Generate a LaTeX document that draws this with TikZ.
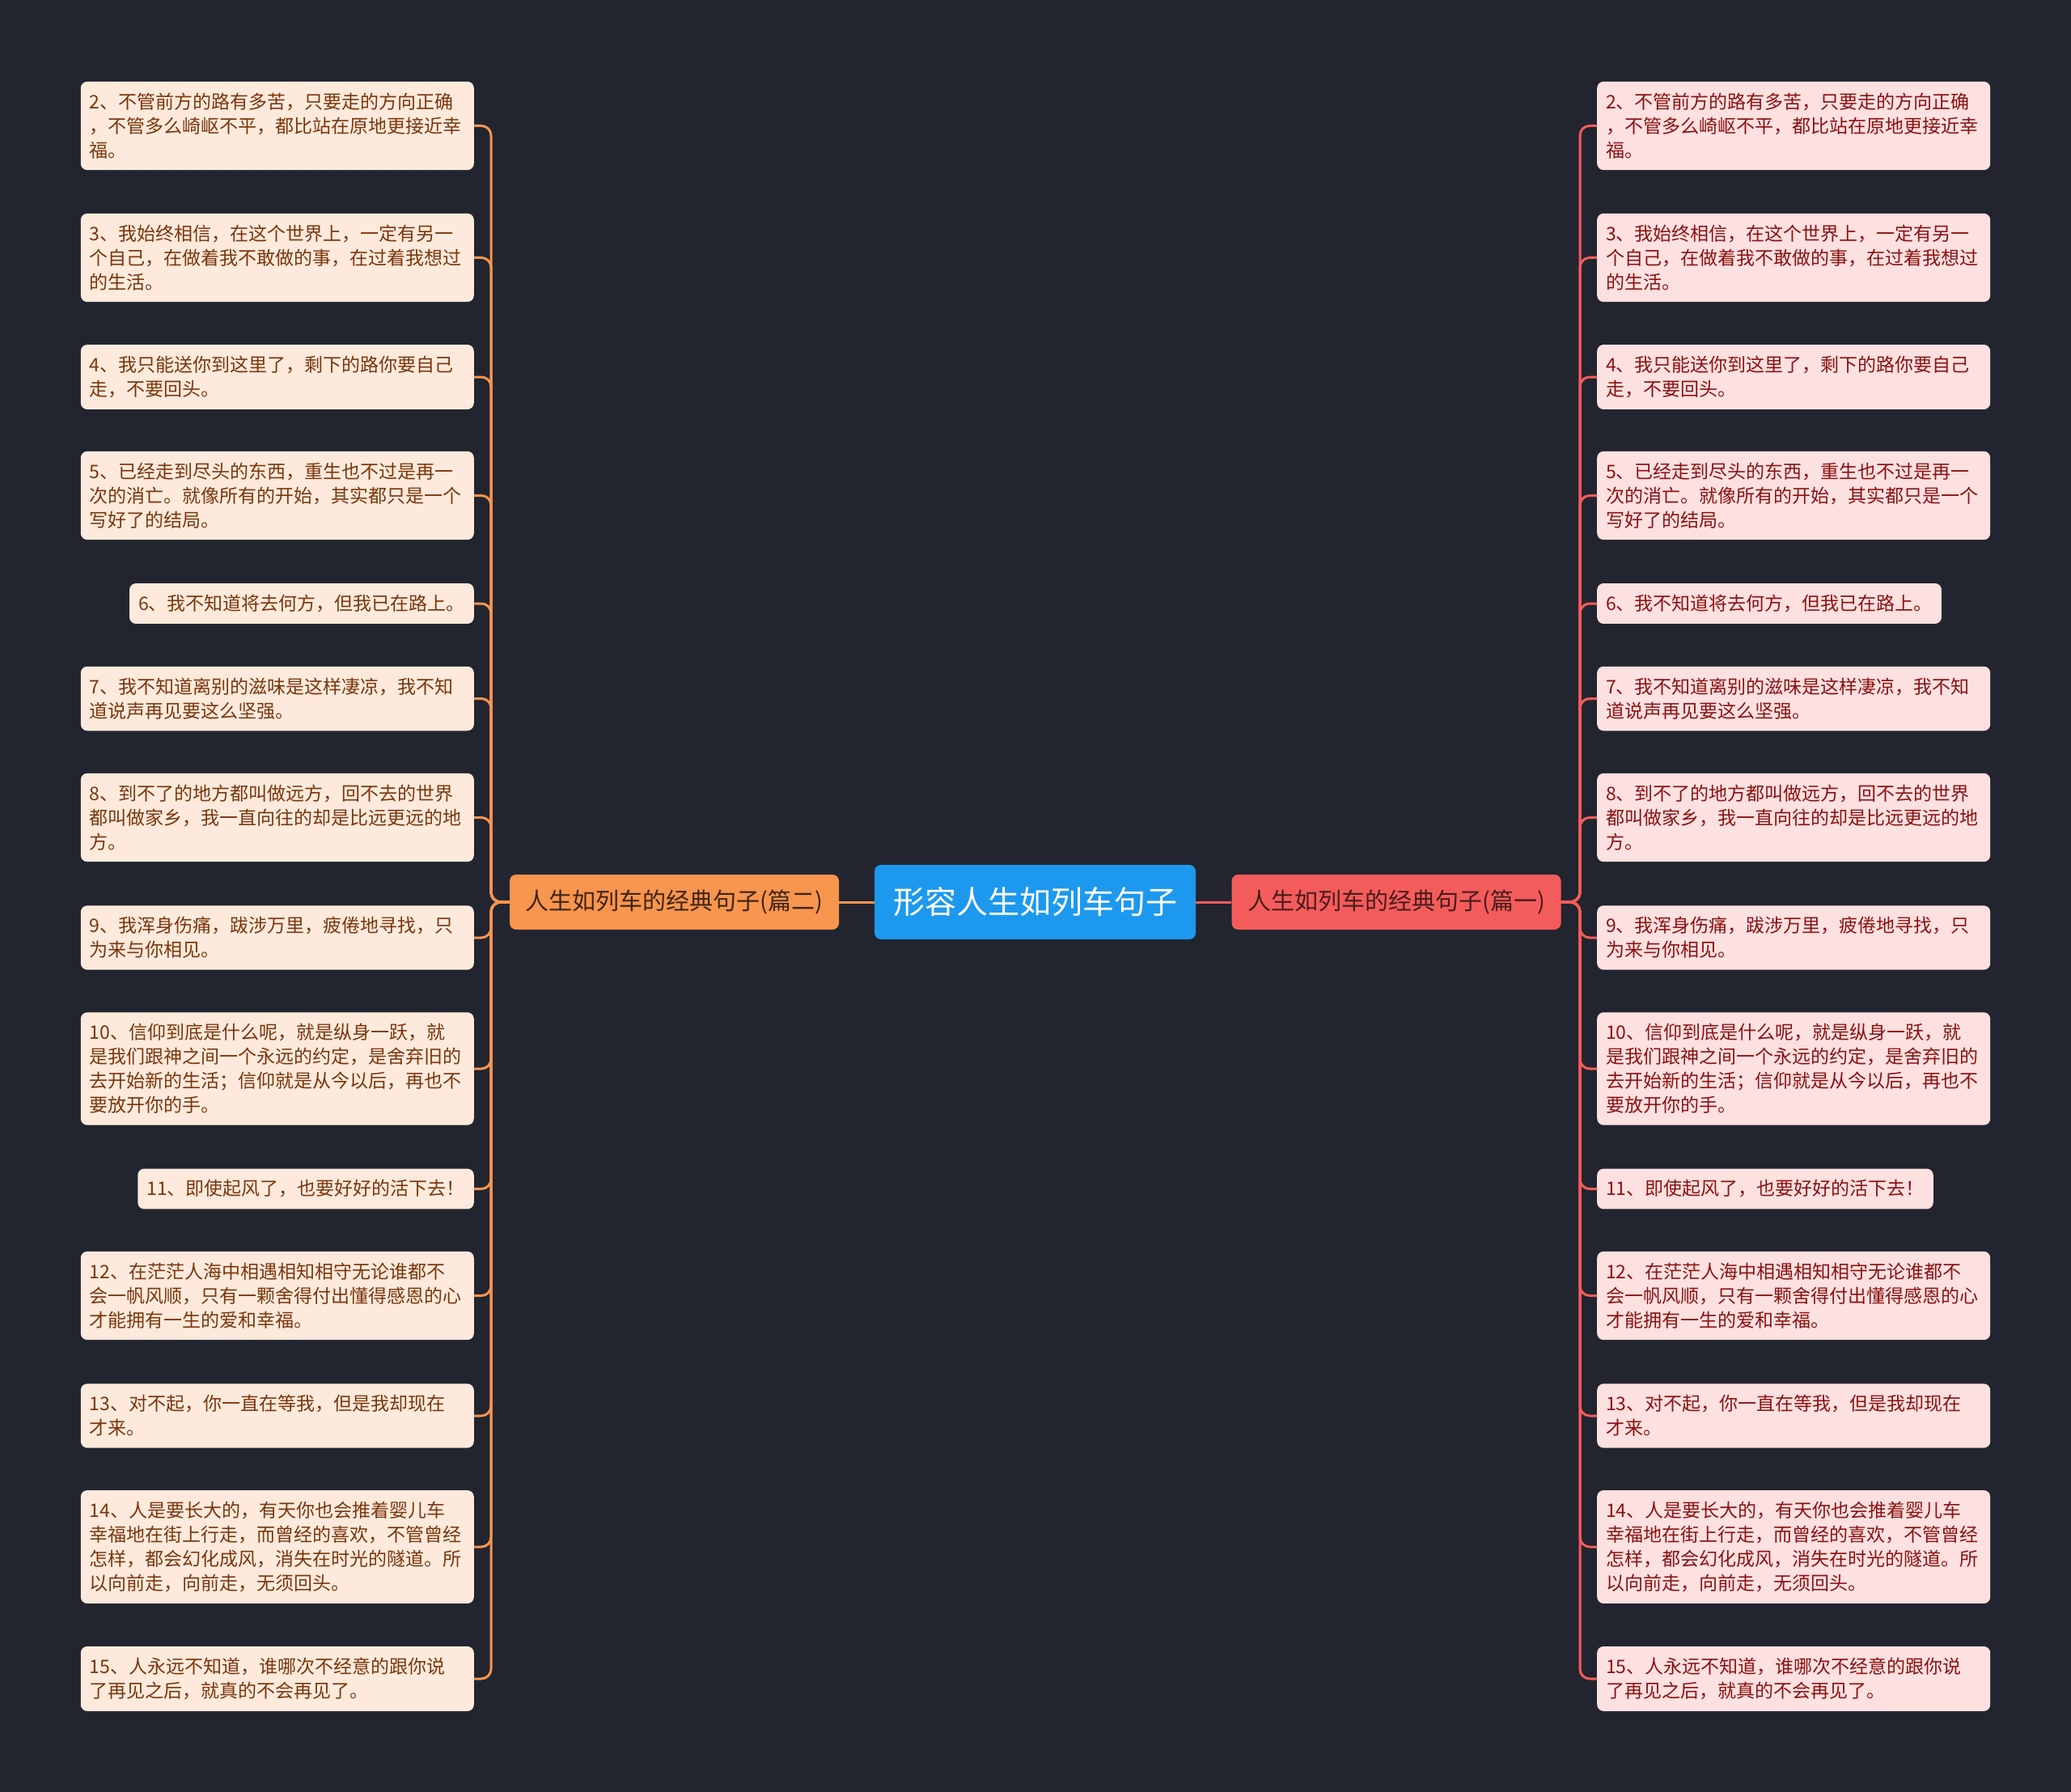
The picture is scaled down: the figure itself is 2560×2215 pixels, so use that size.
\documentclass[tikz,border=0pt]{standalone}
\usepackage{fontspec}
\setmainfont{Noto Sans CJK SC}
\usetikzlibrary{positioning}

\definecolor{bgdark}{HTML}{22252F}
\definecolor{rootblue}{HTML}{1C99EE}
\definecolor{lorange}{HTML}{F8954F}
\definecolor{lleaf}{HTML}{FDEADC}
\definecolor{ltext}{HTML}{7A360C}
\definecolor{rred}{HTML}{F45C5C}
\definecolor{rleaf}{HTML}{FDE0E0}
\definecolor{rtext}{HTML}{8A1212}

\begin{document}
\begin{tikzpicture}[x=1pt,y=-1pt,
  leafL/.style={fill=lleaf,text=ltext,rounded corners=8pt,align=left,
    inner xsep=11pt,inner ysep=14pt,font=\fontsize{23}{30}\selectfont,anchor=east},
  leafR/.style={fill=rleaf,text=rtext,rounded corners=8pt,align=left,
    inner xsep=11pt,inner ysep=14pt,font=\fontsize{23}{30}\selectfont,anchor=west},
  wide/.style={text width=464pt},
  lconn/.style={draw=lorange,line width=3pt,rounded corners=12pt},
  rconn/.style={draw=rred,line width=3pt,rounded corners=12pt}]

  % Background
  \fill[bgdark] (0,0) rectangle (2560,2215);
  \useasboundingbox (0,0) rectangle (2560,2215);

  % Root and branches
  \node[fill=rootblue,text=white,rounded corners=8pt,minimum width=397pt,minimum height=92pt,
    font=\fontsize{39}{46}\selectfont] (root) at (1279.5,1115) {形容人生如列车句子};
  \node[fill=lorange,text=black!75!lorange,rounded corners=8pt,minimum width=407pt,minimum height=68pt,
    font=\fontsize{29}{34}\selectfont] (lb) at (833.5,1115) {人生如列车的经典句子(篇二)};
  \node[fill=rred,text=black!70!rred,rounded corners=8pt,minimum width=407pt,minimum height=68pt,
    font=\fontsize{29}{34}\selectfont] (rb) at (1726,1115) {人生如列车的经典句子(篇一)};

  % Spine points
  \coordinate (spl) at (607,1115);
  \coordinate (spr) at (1953,1115);

  % Left leaves
  \node[leafL,wide] (l2) at (586,155.5) {2、不管前方的路有多苦，只要走的方向正确\\，不管多么崎岖不平，都比站在原地更接近幸\\福。};
  \node[leafL,wide] (l3) at (586,318.5) {3、我始终相信，在这个世界上，一定有另一\\个自己，在做着我不敢做的事，在过着我想过\\的生活。};
  \node[leafL,wide] (l4) at (586,466) {4、我只能送你到这里了，剩下的路你要自己\\走，不要回头。};
  \node[leafL,wide] (l5) at (586,612.5) {5、已经走到尽头的东西，重生也不过是再一\\次的消亡。就像所有的开始，其实都只是一个\\写好了的结局。};
  \node[leafL] (l6) at (586,746) {6、我不知道将去何方，但我已在路上。};
  \node[leafL,wide] (l7) at (586,863.5) {7、我不知道离别的滋味是这样凄凉，我不知\\道说声再见要这么坚强。};
  \node[leafL,wide] (l8) at (586,1010.5) {8、到不了的地方都叫做远方，回不去的世界\\都叫做家乡，我一直向往的却是比远更远的地\\方。};
  \node[leafL,wide] (l9) at (586,1159) {9、我浑身伤痛，跋涉万里，疲倦地寻找，只\\为来与你相见。};
  \node[leafL,wide] (l10) at (586,1321) {10、信仰到底是什么呢，就是纵身一跃，就\\是我们跟神之间一个永远的约定，是舍弃旧的\\去开始新的生活；信仰就是从今以后，再也不\\要放开你的手。};
  \node[leafL] (l11) at (586,1469.5) {11、即使起风了，也要好好的活下去！};
  \node[leafL,wide] (l12) at (586,1601.5) {12、在茫茫人海中相遇相知相守无论谁都不\\会一帆风顺，只有一颗舍得付出懂得感恩的心\\才能拥有一生的爱和幸福。};
  \node[leafL,wide] (l13) at (586,1750) {13、对不起，你一直在等我，但是我却现在\\才来。};
  \node[leafL,wide] (l14) at (586,1912) {14、人是要长大的，有天你也会推着婴儿车\\幸福地在街上行走，而曾经的喜欢，不管曾经\\怎样，都会幻化成风，消失在时光的隧道。所\\以向前走，向前走，无须回头。};
  \node[leafL,wide] (l15) at (586,2075) {15、人永远不知道，谁哪次不经意的跟你说\\了再见之后，就真的不会再见了。};

  % Right leaves
  \node[leafR,wide] (r2) at (1974,155.5) {2、不管前方的路有多苦，只要走的方向正确\\，不管多么崎岖不平，都比站在原地更接近幸\\福。};
  \node[leafR,wide] (r3) at (1974,318.5) {3、我始终相信，在这个世界上，一定有另一\\个自己，在做着我不敢做的事，在过着我想过\\的生活。};
  \node[leafR,wide] (r4) at (1974,466) {4、我只能送你到这里了，剩下的路你要自己\\走，不要回头。};
  \node[leafR,wide] (r5) at (1974,612.5) {5、已经走到尽头的东西，重生也不过是再一\\次的消亡。就像所有的开始，其实都只是一个\\写好了的结局。};
  \node[leafR] (r6) at (1974,746) {6、我不知道将去何方，但我已在路上。};
  \node[leafR,wide] (r7) at (1974,863.5) {7、我不知道离别的滋味是这样凄凉，我不知\\道说声再见要这么坚强。};
  \node[leafR,wide] (r8) at (1974,1010.5) {8、到不了的地方都叫做远方，回不去的世界\\都叫做家乡，我一直向往的却是比远更远的地\\方。};
  \node[leafR,wide] (r9) at (1974,1159) {9、我浑身伤痛，跋涉万里，疲倦地寻找，只\\为来与你相见。};
  \node[leafR,wide] (r10) at (1974,1321) {10、信仰到底是什么呢，就是纵身一跃，就\\是我们跟神之间一个永远的约定，是舍弃旧的\\去开始新的生活；信仰就是从今以后，再也不\\要放开你的手。};
  \node[leafR] (r11) at (1974,1469.5) {11、即使起风了，也要好好的活下去！};
  \node[leafR,wide] (r12) at (1974,1601.5) {12、在茫茫人海中相遇相知相守无论谁都不\\会一帆风顺，只有一颗舍得付出懂得感恩的心\\才能拥有一生的爱和幸福。};
  \node[leafR,wide] (r13) at (1974,1750) {13、对不起，你一直在等我，但是我却现在\\才来。};
  \node[leafR,wide] (r14) at (1974,1912) {14、人是要长大的，有天你也会推着婴儿车\\幸福地在街上行走，而曾经的喜欢，不管曾经\\怎样，都会幻化成风，消失在时光的隧道。所\\以向前走，向前走，无须回头。};
  \node[leafR,wide] (r15) at (1974,2075) {15、人永远不知道，谁哪次不经意的跟你说\\了再见之后，就真的不会再见了。};

  % Root to branches
  \draw[draw=lorange,line width=3pt] (root.west) -- (lb.east);
  \draw[draw=rred,line width=3pt] (root.east) -- (rb.west);

  % Left connectors
  \draw[lconn] (lb.west) -- (spl) |- (l2.east);
  \draw[lconn] (lb.west) -- (spl) |- (l3.east);
  \draw[lconn] (lb.west) -- (spl) |- (l4.east);
  \draw[lconn] (lb.west) -- (spl) |- (l5.east);
  \draw[lconn] (lb.west) -- (spl) |- (l6.east);
  \draw[lconn] (lb.west) -- (spl) |- (l7.east);
  \draw[lconn] (lb.west) -- (spl) |- (l8.east);
  \draw[lconn] (lb.west) -- (spl) |- (l9.east);
  \draw[lconn] (lb.west) -- (spl) |- (l10.east);
  \draw[lconn] (lb.west) -- (spl) |- (l11.east);
  \draw[lconn] (lb.west) -- (spl) |- (l12.east);
  \draw[lconn] (lb.west) -- (spl) |- (l13.east);
  \draw[lconn] (lb.west) -- (spl) |- (l14.east);
  \draw[lconn] (lb.west) -- (spl) |- (l15.east);

  % Right connectors
  \draw[rconn] (rb.east) -- (spr) |- (r2.west);
  \draw[rconn] (rb.east) -- (spr) |- (r3.west);
  \draw[rconn] (rb.east) -- (spr) |- (r4.west);
  \draw[rconn] (rb.east) -- (spr) |- (r5.west);
  \draw[rconn] (rb.east) -- (spr) |- (r6.west);
  \draw[rconn] (rb.east) -- (spr) |- (r7.west);
  \draw[rconn] (rb.east) -- (spr) |- (r8.west);
  \draw[rconn] (rb.east) -- (spr) |- (r9.west);
  \draw[rconn] (rb.east) -- (spr) |- (r10.west);
  \draw[rconn] (rb.east) -- (spr) |- (r11.west);
  \draw[rconn] (rb.east) -- (spr) |- (r12.west);
  \draw[rconn] (rb.east) -- (spr) |- (r13.west);
  \draw[rconn] (rb.east) -- (spr) |- (r14.west);
  \draw[rconn] (rb.east) -- (spr) |- (r15.west);

\end{tikzpicture}
\end{document}
